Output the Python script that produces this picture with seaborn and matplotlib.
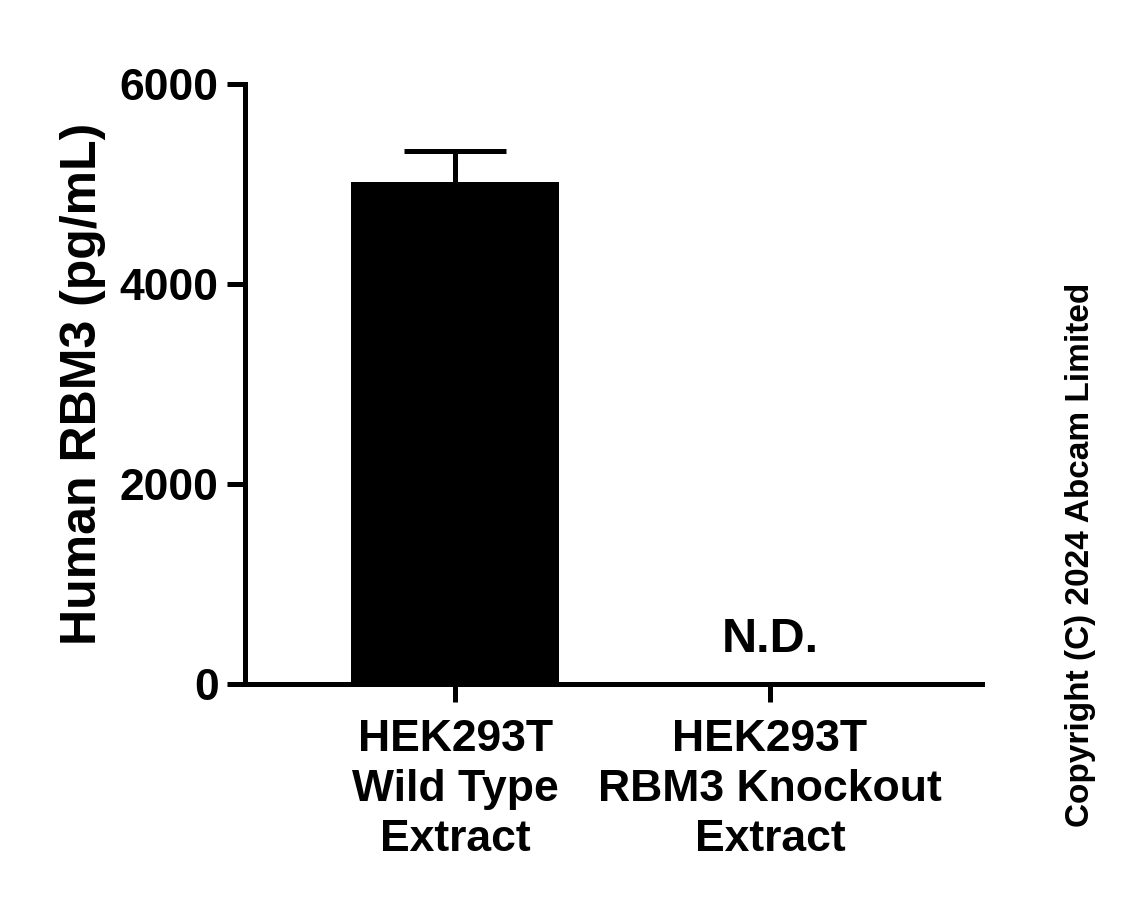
import matplotlib
matplotlib.use('Agg')
import matplotlib.pyplot as plt
import seaborn as sns
import pandas as pd

# values
samples = ['HEK293T\nWild Type\nExtract', 'HEK293T\nRBM3 Knockout\nExtract']
rbm3_pg_ml = [5020, 0]
sd_upper = [310, 0]
annotations = ['', 'N.D.']

sns.set_style('ticks')
plt.rcParams['font.family'] = ['Liberation Sans', 'DejaVu Sans']
plt.rcParams['font.weight'] = 'bold'
plt.rcParams['text.color'] = 'black'
plt.rcParams['axes.labelcolor'] = 'black'
plt.rcParams['xtick.color'] = 'black'
plt.rcParams['ytick.color'] = 'black'
plt.rcParams['axes.edgecolor'] = 'black'

df = pd.DataFrame({'sample': samples, 'value': rbm3_pg_ml, 'err': sd_upper})

fig = plt.figure(figsize=(11.42, 8.98), dpi=100)
ax = fig.add_axes([245 / 1142, (898 - 684) / 898, (982 - 245) / 1142, (684 - 84) / 898])

sns.barplot(data=df, x='sample', y='value', color='black', width=0.66,
            saturation=1, errorbar=None, ax=ax)
for p in ax.patches:
    p.set_linewidth(0)

# upward-only error bar on the measured sample
wt = df[df['err'] > 0]
eb = ax.errorbar(x=wt.index, y=wt['value'], yerr=[[0] * len(wt), wt['err']],
                 fmt='none', ecolor='black', elinewidth=3.6, capsize=37, capthick=3.6)
eb[1][0].set_visible(False)  # hide the cap at the bar top

for i, txt in enumerate(annotations):
    if txt:
        ax.text(i, rbm3_pg_ml[i] + 450, txt, ha='center', va='center',
                fontsize=35, fontweight='bold')

ax.set_ylim(0, 6000)
ax.set_xlim(-0.667, 1.673)
ax.set_yticks([0, 2000, 4000, 6000])
ax.set_ylabel('Human RBM3 (pg/mL)', fontsize=36, fontweight='bold', labelpad=10)
ax.set_xlabel('')
ax.tick_params(axis='both', width=3.6, length=13, labelsize=32, pad=6)
ax.tick_params(axis='x', pad=12)
for lab in ax.get_xticklabels() + ax.get_yticklabels():
    lab.set_fontweight('bold')
for lab in ax.get_xticklabels():
    lab.set_linespacing(1.28)
for s in ['left', 'bottom']:
    ax.spines[s].set_linewidth(3.6)
sns.despine(ax=ax)

fig.text(1080 / 1142, 1 - 555 / 898, 'Copyright (C) 2024 Abcam Limited',
         rotation=90, ha='center', va='center', fontsize=24, fontweight='bold')

fig.savefig('out.png', dpi=100)
